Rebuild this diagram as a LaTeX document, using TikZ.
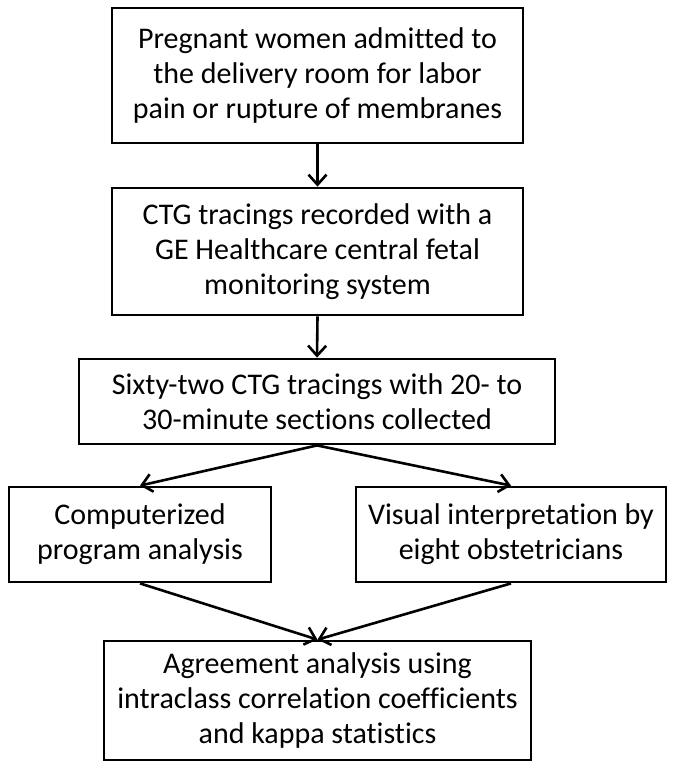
\documentclass[tikz,border=0pt]{standalone}
\usepackage{fontspec}
\setmainfont{Carlito}[Ligatures=CommonOff]
\usetikzlibrary{arrows.meta}
\begin{document}
\begin{tikzpicture}[x=1pt,y=-1pt,
  box/.style={draw, line width=2.8pt, align=center, inner sep=0pt,
    font=\fontsize{30}{35}\selectfont},
  conn/.style={line width=2.6pt, -{Straight Barb[length=10pt,width=18pt,line width=2.6pt]}}]
\useasboundingbox (0,0) rectangle (677,769);
\node[box, minimum width=411pt, minimum height=135pt] (b1) at (317.5,75.5)
  {Pregnant women admitted to\\the delivery room for labor\\pain or rupture of membranes};
\node[box, minimum width=411pt, minimum height=127pt] (b2) at (317.5,251.5)
  {CTG tracings recorded with a\\GE Healthcare central fetal\\monitoring system};
\node[box, minimum width=476pt, minimum height=85pt] (b3) at (317,401.5)
  {Sixty-two CTG tracings with 20- to\\30-minute sections collected};
\node[box, minimum width=262pt, minimum height=95pt] (b4) at (140,534.5)
  {Computerized\\program analysis};
\node[box, minimum width=310pt, minimum height=95pt] (b5) at (511,534.5)
  {Visual interpretation by\\eight obstetricians};
\node[box, minimum width=427pt, minimum height=119pt] (b6) at (317.5,700.5)
  {Agreement analysis using\\intraclass correlation coefficients\\and kappa statistics};
\draw[conn] (b1.south) -- (b2.north);
\draw[conn] (b2.south) -- (b3.north);
\draw[conn] (b3.south) -- (b4.north);
\draw[conn] (b3.south) -- (b5.north);
\draw[conn] (b4.south) -- (b6.north);
\draw[conn] (b5.south) -- (b6.north);
\end{tikzpicture}
\end{document}
